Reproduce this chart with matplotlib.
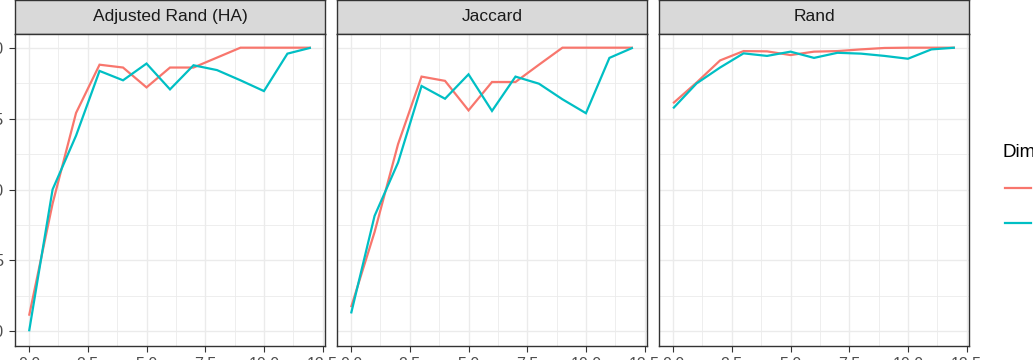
import matplotlib
matplotlib.use("Agg")
import matplotlib.pyplot as plt
from matplotlib.lines import Line2D
from matplotlib.ticker import MultipleLocator, FormatStrFormatter

plt.rcParams['font.family'] = ['Liberation Sans', 'DejaVu Sans']

# ---------------- data ----------------
x_values = list(range(13))
panel_titles = ["Adjusted Rand (HA)", "Jaccard", "Rand"]
series_names = ["2", "3"]
legend_title = "Dimension"
y_tick_values = [0.0, 0.25, 0.5, 0.75, 1.0]

adjusted_red = [0.055, 0.45, 0.77, 0.94, 0.93, 0.86, 0.93, 0.93, 0.965, 1.0, 1.0, 1.0, 1.0]
adjusted_cyan = [0.0, 0.50, 0.69, 0.918, 0.885, 0.944, 0.853, 0.938, 0.921, 0.885, 0.847, 0.979, 1.0]

jaccard_red = [0.085, 0.35, 0.66, 0.898, 0.883, 0.779, 0.879, 0.879, 0.94, 1.0, 1.0, 1.0, 1.0]
jaccard_cyan = [0.063, 0.407, 0.595, 0.865, 0.82, 0.906, 0.777, 0.898, 0.873, 0.818, 0.769, 0.964, 1.0]

rand_red = [0.804, 0.877, 0.955, 0.988, 0.987, 0.974, 0.986, 0.988, 0.994, 0.999, 1.0, 1.0, 1.0]
rand_cyan = [0.786, 0.874, 0.93, 0.98, 0.971, 0.986, 0.964, 0.982, 0.979, 0.971, 0.961, 0.994, 1.0]

panel_data = [(adjusted_red, adjusted_cyan), (jaccard_red, jaccard_cyan), (rand_red, rand_cyan)]
colors = ["#F8766D", "#00BFC4"]

# ---------------- layout ----------------
W, H = 1033, 360
fig = plt.figure(figsize=(W / 100, H / 100), dpi=100)
fig.patch.set_facecolor("white")


def rect(left, top, width, height):
    return [left / W, 1 - (top + height) / H, width / W, height / H]


lefts = [15, 337, 659]
pw = 310
strip_top, strip_h = 0, 33.5
panel_top, panel_h = 33.5, 312
border = "#333333"

for i, (title, (red, cyan)) in enumerate(zip(panel_titles, panel_data)):
    # strip
    sax = fig.add_axes(rect(lefts[i], strip_top, pw, strip_h))
    sax.set_facecolor("#D9D9D9")
    sax.set_xticks([])
    sax.set_yticks([])
    for s in sax.spines.values():
        s.set_color(border)
        s.set_linewidth(1.0)
    sax.text(0.5, 0.5, title, ha="center", va="center", fontsize=12.5,
             color="#1A1A1A", transform=sax.transAxes)

    # panel
    ax = fig.add_axes(rect(lefts[i], panel_top, pw, panel_h))
    ax.set_facecolor("white")
    for yv, col, name in zip((red, cyan), colors, series_names):
        ax.plot(x_values, yv, color=col, lw=1.6, label=name,
                solid_capstyle="butt", solid_joinstyle="miter")
    ax.set_xlim(-0.6, 12.6)
    ax.set_ylim(-0.05, 1.05)
    ax.xaxis.set_major_locator(MultipleLocator(2.5))
    ax.xaxis.set_minor_locator(MultipleLocator(1.25))
    ax.set_yticks(y_tick_values)
    ax.yaxis.set_minor_locator(MultipleLocator(0.125))
    ax.yaxis.set_major_formatter(FormatStrFormatter("%.2f"))
    ax.xaxis.set_major_formatter(FormatStrFormatter("%.1f"))
    ax.grid(which="major", color="#EBEBEB", lw=1.0)
    ax.grid(which="minor", color="#EBEBEB", lw=0.6)
    ax.set_axisbelow(True)
    ax.tick_params(which="major", length=4.5, width=0.8, color=border,
                   labelsize=11.5, labelcolor="#4D4D4D", pad=3.5)
    ax.tick_params(which="minor", length=0)
    if i > 0:
        ax.tick_params(axis="y", which="both", left=False, labelleft=False)
    for s in ax.spines.values():
        s.set_color(border)
        s.set_linewidth(1.0)

# ---------------- legend (cropped at right edge) ----------------
fig.text(1002 / W, 1 - 152 / H, legend_title, ha="left", va="center",
         fontsize=13.5, color="black")
for k, col in enumerate(colors):
    yk = 1 - (188 + 34.5 * k) / H
    fig.add_artist(Line2D([1005 / W, 1031 / W], [yk, yk], transform=fig.transFigure,
                          color=col, lw=1.6))
    fig.text(1040 / W, yk, series_names[k], ha="left", va="center", fontsize=11.5)

fig.savefig("out.png", dpi=100)
